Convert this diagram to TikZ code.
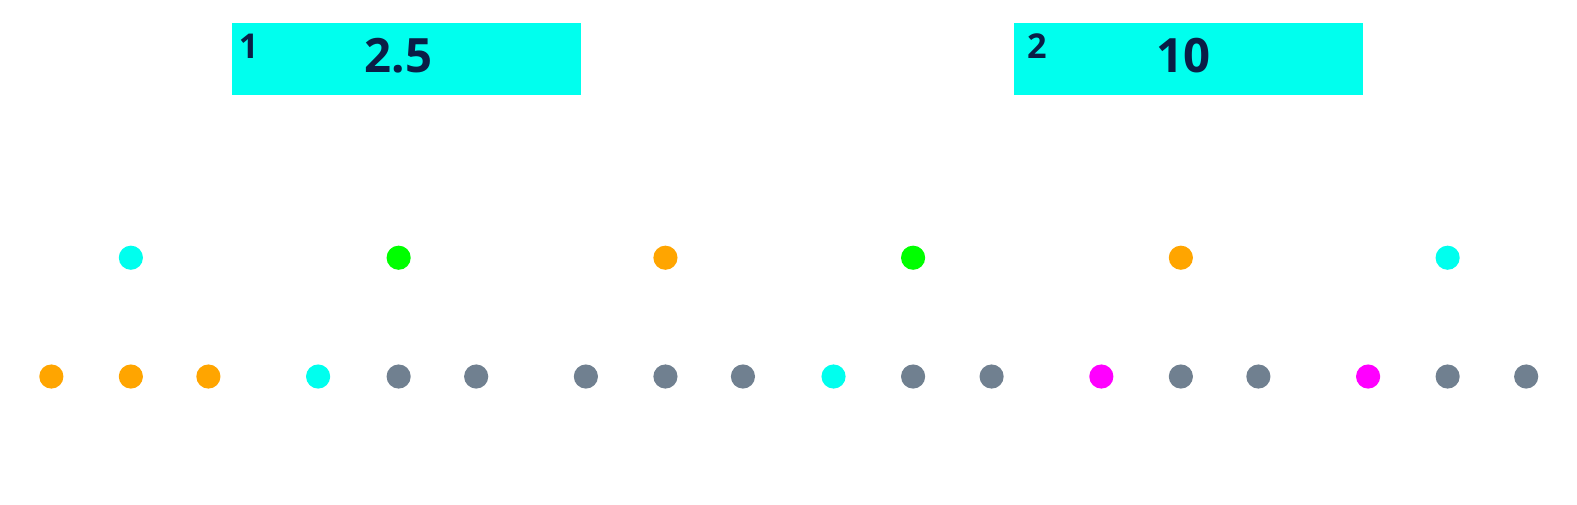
\documentclass[tikz,border=0pt]{standalone}
\usepackage{fontspec}
\setmainfont{Open Sans}
\definecolor{boxcyan}{RGB}{0,255,238}
\definecolor{dotgreen}{RGB}{0,255,0}
\definecolor{dotorange}{RGB}{255,165,0}
\definecolor{dotgray}{RGB}{112,128,144}
\definecolor{dotmagenta}{RGB}{255,0,255}
\definecolor{labelnavy}{RGB}{10,30,70}
\tikzset{
  dot/.style={circle, inner sep=0pt, minimum size=24pt, fill=#1},
  valuebox/.style={fill=boxcyan, inner sep=0pt, minimum width=347pt, minimum height=71pt},
  indexlabel/.style={anchor=base west, inner sep=0pt, text=labelnavy, font=\fontsize{34}{40}\selectfont\bfseries},
  valuelabel/.style={anchor=base, inner sep=0pt, text=labelnavy, font=\fontsize{47}{56}\selectfont\bfseries}
}
\begin{document}
\begin{tikzpicture}[x=1pt, y=-1pt]
  \useasboundingbox (0,0) rectangle (1566.5,500.7);

  % value boxes
  \node[valuebox] (box1) at (403.5,58.5) {};
  \node[valuebox] (box2) at (1180.5,58.5) {};
  \node[indexlabel] (idx1) at (237,58.5) {1};
  \node[indexlabel] (idx2) at (1020,58.5) {2};
  \node[valuelabel] (val1) at (396,72.5) {2.5};
  \node[valuelabel] (val2) at (1176,72.5) {10};

  % upper row
  \node[dot=boxcyan]   (u1) at (130,256) {};
  \node[dot=dotgreen]  (u2) at (396,256) {};
  \node[dot=dotorange] (u3) at (661,256) {};
  \node[dot=dotgreen]  (u4) at (907,256) {};
  \node[dot=dotorange] (u5) at (1173,256) {};
  \node[dot=boxcyan]   (u6) at (1438,256) {};

  % lower row
  \node[dot=dotorange]  (l1)  at (51,374) {};
  \node[dot=dotorange]  (l2)  at (130,374) {};
  \node[dot=dotorange]  (l3)  at (207,374) {};
  \node[dot=boxcyan]    (l4)  at (316,374) {};
  \node[dot=dotgray]    (l5)  at (396,374) {};
  \node[dot=dotgray]    (l6)  at (473,374) {};
  \node[dot=dotgray]    (l7)  at (582,374) {};
  \node[dot=dotgray]    (l8)  at (661,374) {};
  \node[dot=dotgray]    (l9)  at (738,374) {};
  \node[dot=boxcyan]    (l10) at (828,374) {};
  \node[dot=dotgray]    (l11) at (907,374) {};
  \node[dot=dotgray]    (l12) at (985,374) {};
  \node[dot=dotmagenta] (l13) at (1094,374) {};
  \node[dot=dotgray]    (l14) at (1173,374) {};
  \node[dot=dotgray]    (l15) at (1250,374) {};
  \node[dot=dotmagenta] (l16) at (1359,374) {};
  \node[dot=dotgray]    (l17) at (1438,374) {};
  \node[dot=dotgray]    (l18) at (1516,374) {};

\end{tikzpicture}
\end{document}
